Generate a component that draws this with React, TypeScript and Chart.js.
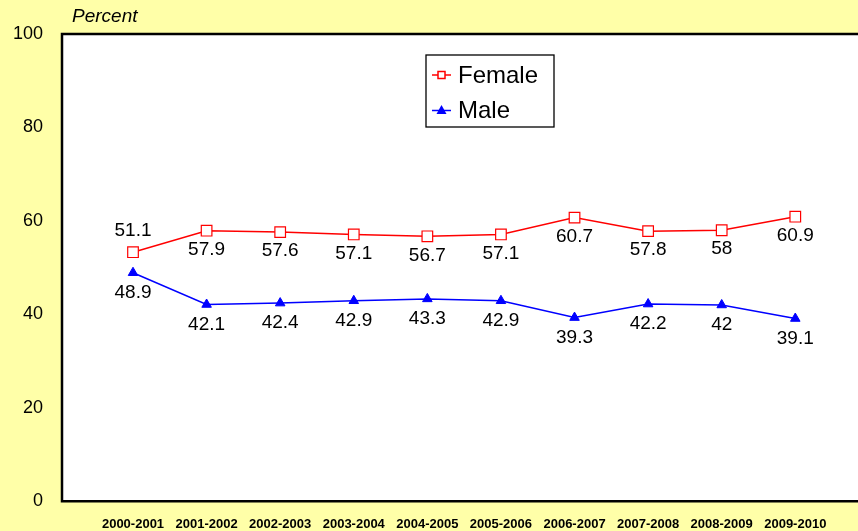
import React, { useEffect, useRef } from "react";
import { Chart, registerables } from "chart.js";

Chart.register(...registerables);

const categories = [
  "2000-2001", "2001-2002", "2002-2003", "2003-2004", "2004-2005",
  "2005-2006", "2006-2007", "2007-2008", "2008-2009", "2009-2010",
];
const femaleValues = [53.3, 57.9, 57.6, 57.1, 56.7, 57.1, 60.7, 57.8, 58, 60.9];
const femaleLabels = ["51.1", "57.9", "57.6", "57.1", "56.7", "57.1", "60.7", "57.8", "58", "60.9"];
const maleValues = [48.9, 42.1, 42.4, 42.9, 43.3, 42.9, 39.3, 42.2, 42, 39.1];
const maleLabels = ["48.9", "42.1", "42.4", "42.9", "43.3", "42.9", "39.3", "42.2", "42", "39.1"];
const yTicks = [0, 20, 40, 60, 80, 100];

const FONT = "'Liberation Sans', Arial, sans-serif";
const BG = "#FFFFA8";
const RED = "#FF0000";
const BLUE = "#0000FF";

export default function App() {
  const ref = useRef<HTMLCanvasElement | null>(null);

  useEffect(() => {
    const canvas = ref.current;
    if (!canvas) return;

    const decor = {
      id: "decor",
      beforeDraw(chart: any) {
        const { ctx, chartArea: a } = chart;
        ctx.save();
        ctx.fillStyle = BG;
        ctx.fillRect(0, 0, chart.width, chart.height);
        ctx.fillStyle = "#FFFFFF";
        ctx.fillRect(a.left, a.top, chart.width - a.left, a.bottom - a.top);
        ctx.restore();
      },
      afterDatasetsDraw(chart: any) {
        const { ctx, chartArea: a } = chart;
        ctx.save();
        // border
        ctx.strokeStyle = "#000000";
        ctx.lineWidth = 2.5;
        ctx.beginPath();
        ctx.moveTo(chart.width + 5, a.top);
        ctx.lineTo(a.left, a.top);
        ctx.lineTo(a.left, a.bottom);
        ctx.lineTo(chart.width + 5, a.bottom);
        ctx.stroke();

        // data labels
        ctx.fillStyle = "#000000";
        ctx.font = `19px ${FONT}`;
        ctx.textAlign = "center";
        ctx.textBaseline = "middle";
        const fMeta = chart.getDatasetMeta(0);
        const mMeta = chart.getDatasetMeta(1);
        fMeta.data.forEach((p: any, i: number) => {
          const dy = i === 0 ? -21 : 19;
          ctx.fillText(femaleLabels[i], p.x, p.y + dy);
        });
        mMeta.data.forEach((p: any, i: number) => {
          ctx.fillText(maleLabels[i], p.x, p.y + 20);
        });

        // legend
        const lx = 426, ly = 55, lw = 128, lh = 72;
        ctx.fillStyle = "#FFFFFF";
        ctx.fillRect(lx, ly, lw, lh);
        ctx.strokeStyle = "#000000";
        ctx.lineWidth = 1.3;
        ctx.strokeRect(lx, ly, lw, lh);
        const rows = [
          { label: "Female", color: RED, y: 75, style: "rect" },
          { label: "Male", color: BLUE, y: 110.5, style: "triangle" },
        ];
        rows.forEach((r) => {
          ctx.strokeStyle = r.color;
          ctx.lineWidth = 1.5;
          ctx.beginPath();
          ctx.moveTo(432, r.y);
          ctx.lineTo(451, r.y);
          ctx.stroke();
          if (r.style === "rect") {
            ctx.fillStyle = "#FFFFFF";
            ctx.fillRect(438, r.y - 3.5, 7, 7);
            ctx.strokeRect(438, r.y - 3.5, 7, 7);
          } else {
            ctx.fillStyle = r.color;
            ctx.beginPath();
            ctx.moveTo(441.5, r.y - 5.5);
            ctx.lineTo(446.5, r.y + 3.5);
            ctx.lineTo(436.5, r.y + 3.5);
            ctx.closePath();
            ctx.fill();
          }
          ctx.fillStyle = "#000000";
          ctx.font = `24px ${FONT}`;
          ctx.textAlign = "left";
          ctx.textBaseline = "middle";
          ctx.fillText(r.label, 458, r.y + 1);
        });
        ctx.restore();
      },
    };

    const chart = new Chart(canvas, {
      type: "line",
      data: {
        datasets: [
          {
            label: "Female",
            data: femaleValues.map((v, i) => ({ x: i, y: v })),
            borderColor: RED,
            backgroundColor: "#FFFFFF",
            borderWidth: 1.5,
            pointStyle: "rect",
            pointRadius: 7.5,
            pointBorderColor: RED,
            pointBackgroundColor: "#FFFFFF",
            pointBorderWidth: 1.2,
            tension: 0,
            clip: false,
          },
          {
            label: "Male",
            data: maleValues.map((v, i) => ({ x: i, y: v })),
            borderColor: BLUE,
            backgroundColor: BLUE,
            borderWidth: 1.5,
            pointStyle: "triangle",
            pointRadius: 5.5,
            pointBorderColor: BLUE,
            pointBackgroundColor: BLUE,
            pointBorderWidth: 1,
            tension: 0,
            clip: false,
          },
        ],
      },
      options: {
        animation: false,
        responsive: false,
        maintainAspectRatio: false,
        layout: { padding: { top: 34, left: 0, right: 0, bottom: 0 } },
        plugins: {
          legend: { display: false },
          tooltip: { enabled: false },
        },
        scales: {
          x: {
            type: "linear",
            min: -0.965,
            max: 9.734,
            grid: { display: false, drawTicks: false },
            border: { display: false },
            afterBuildTicks: (scale: any) => {
              scale.ticks = categories.map((_, i) => ({ value: i }));
            },
            afterFit: (scale: any) => {
              scale.height = 29;
            },
            ticks: {
              autoSkip: false,
              maxRotation: 0,
              padding: 15,
              color: "#000000",
              font: { family: FONT, size: 13, weight: "bold" },
              callback: (v: any) => categories[Math.round(Number(v))] ?? "",
            },
          },
          y: {
            min: 0,
            max: 100,
            grid: { display: false, drawTicks: false },
            border: { display: false },
            afterBuildTicks: (scale: any) => {
              scale.ticks = yTicks.map((v) => ({ value: v }));
            },
            afterFit: (scale: any) => {
              scale.width = 62;
            },
            ticks: {
              padding: 19,
              color: "#000000",
              font: { family: FONT, size: 18 },
            },
          },
        },
      },
      plugins: [decor],
    } as any);

    return () => chart.destroy();
  }, []);

  return (
    <div
      style={{
        position: "absolute",
        left: 0,
        top: 0,
        width: 858,
        height: 531,
        background: BG,
        overflow: "hidden",
      }}
    >
      <canvas ref={ref} width={858} height={531} style={{ display: "block" }} />
      <div
        style={{
          position: "absolute",
          left: 72,
          top: 5,
          fontFamily: FONT,
          fontStyle: "italic",
          fontSize: 19,
          lineHeight: "22px",
          color: "#000000",
        }}
      >
        Percent
      </div>
    </div>
  );
}
